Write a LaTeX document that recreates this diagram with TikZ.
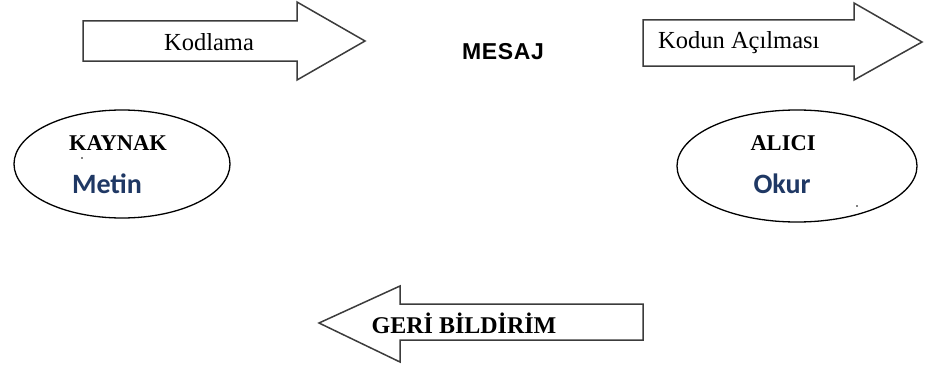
\documentclass[tikz,border=0pt]{standalone}
\usepackage{fontspec}
\setmainfont{Liberation Serif}
\newfontfamily\labelsans{Liberation Sans}
\newfontfamily\carlito{Carlito}
\definecolor{navy}{RGB}{31,56,100}
\definecolor{outline}{RGB}{60,60,60}
\begin{document}
\begin{tikzpicture}[x=1pt,y=-1pt,
  blockarrow/.style={draw=outline,line width=1.5pt,fill=white,line join=miter},
  oval/.style={draw=black,line width=1.3pt},
  arrowtext/.style={font=\fontsize{24.5}{28}\selectfont,inner sep=0pt},
  title/.style={font=\fontsize{22.5}{26}\selectfont\bfseries,inner sep=0pt},
  role/.style={font=\carlito\fontsize{28}{32}\selectfont\bfseries,text=navy,inner sep=0pt}]
\useasboundingbox (0,0) rectangle (925,369);

% encoding arrow
\draw[blockarrow] (83,21) -- (297,21) -- (297,2) -- (365,41) -- (297,80)
  -- (297,61) -- (83,61) -- cycle;
\node[arrowtext] (kod) at (209,42) {Kodlama};

% decoding arrow
\draw[blockarrow] (643,20) -- (854,20) -- (854,3) -- (922,42) -- (854,80)
  -- (854,66) -- (643,66) -- cycle;
\node[arrowtext,anchor=west] (coz) at (658,43) {Kodun Açılması};

% message
\node[font=\labelsans\fontsize{23}{26}\selectfont\bfseries\addfontfeature{LetterSpace=3},inner sep=0pt]
  (mesaj) at (503,52) {MESAJ};

% source
\draw[oval] (122,164) ellipse [x radius=108, y radius=54];
\node[title] (kaynak) at (118,143) {KAYNAK};
\node[role] (metin) at (107,184) {Metin};
\fill (82,158) circle (0.8);

% receiver
\draw[oval] (797,166) ellipse [x radius=120, y radius=56];
\node[title] (alici) at (783,143) {ALICI};
\node[role] (okur) at (782,184) {Okur};
\fill (857,206) circle (0.8);

% feedback arrow
\draw[blockarrow] (643,304) -- (400,304) -- (400,286) -- (319,323) -- (400,362)
  -- (400,340) -- (643,340) -- cycle;
\node[font=\fontsize{24}{28}\selectfont\bfseries,inner sep=0pt] (geri) at (464,323) {GER\.I B\.ILD\.IR\.IM};
\end{tikzpicture}
\end{document}
